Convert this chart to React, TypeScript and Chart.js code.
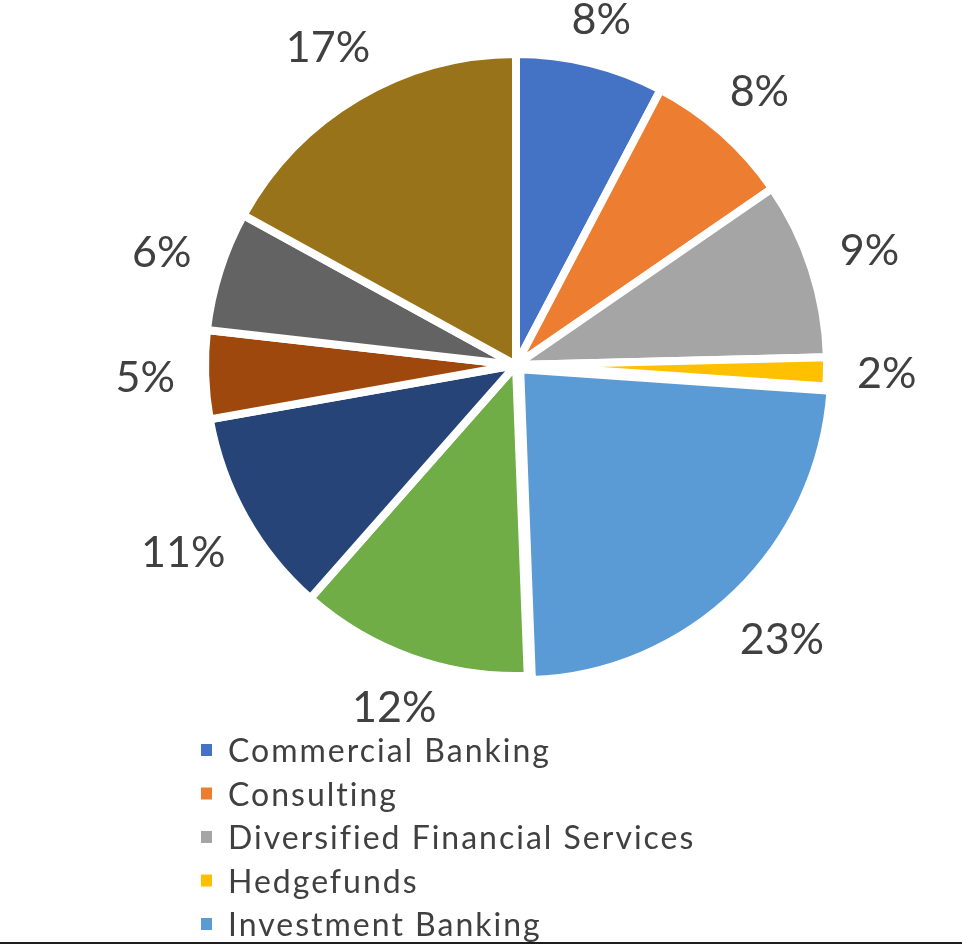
import React, { useEffect, useRef } from "react";
import { Chart, registerables } from "chart.js";

Chart.register(...registerables);

// ---- data ----
const categories: string[] = [
  "Commercial Banking",
  "Consulting",
  "Diversified Financial Services",
  "Hedgefunds",
  "Investment Banking",
  "Category 6",
  "Category 7",
  "Category 8",
  "Category 9",
  "Category 10",
];
const values: number[] = [7.7, 7.7, 9.2, 1.5, 23.3, 12.1, 10.7, 4.6, 6.2, 17.0];
const colors: string[] = [
  "#4472C4",
  "#ED7D31",
  "#A5A5A5",
  "#FFC000",
  "#5B9BD5",
  "#70AD47",
  "#264478",
  "#9E480E",
  "#636363",
  "#98731A",
];
const explode: number[] = [0, 0, 0, 0, 24, 0, 0, 0, 0, 0];

const TEXT_COLOR = "#404040";
const FONT = "Lato, 'Noto Sans', sans-serif";

const outerLabels = {
  id: "outerLabels",
  afterDatasetsDraw(chart: any) {
    const ctx = chart.ctx as CanvasRenderingContext2D;
    const meta = chart.getDatasetMeta(0);
    const total = values.reduce((a, b) => a + b, 0);
    ctx.save();
    ctx.font = `43px ${FONT}`;
    ctx.fillStyle = TEXT_COLOR;
    ctx.textAlign = "center";
    ctx.textBaseline = "alphabetic";
    const halfH = 8;
    meta.data.forEach((arc: any, i: number) => {
      const p = arc.getProps(["x", "y", "startAngle", "endAngle", "outerRadius"], true);
      const mid = (p.startAngle + p.endAngle) / 2;
      const off = (explode[i] || 0) / 4;
      const pct = Math.round((values[i] / total) * 100);
      const text = pct + "%";
      const halfW = ctx.measureText(text).width / 2;
      const c = Math.cos(mid);
      const s = Math.sin(mid);
      const r = p.outerRadius + off + 30 + halfW * Math.abs(c) + halfH * Math.abs(s);
      const lx = p.x + c * r;
      const ly = p.y + s * r;
      ctx.fillText(text, lx, ly + 15);
    });
    ctx.restore();
  },
  afterDraw(chart: any) {
    const ctx = chart.ctx as CanvasRenderingContext2D;
    ctx.save();
    ctx.font = `32px ${FONT}`;
    (ctx as any).letterSpacing = "2px";
    ctx.textAlign = "left";
    ctx.textBaseline = "alphabetic";
    const startY = 750;
    const step = 43.5;
    categories.forEach((c, i) => {
      const cy = startY + i * step;
      ctx.fillStyle = colors[i];
      ctx.fillRect(201, cy - 6, 11, 12);
      ctx.fillStyle = TEXT_COLOR;
      ctx.fillText(c, 228, cy + 12);
    });
    (ctx as any).letterSpacing = "0px";
    ctx.fillStyle = "#1e1e1e";
    ctx.fillRect(0, 942, 962, 2);
    ctx.restore();
  },
};

export default function App() {
  const ref = useRef<HTMLCanvasElement | null>(null);
  useEffect(() => {
    document.body.style.margin = "0";
    if (!ref.current) return;
    const chart = new Chart(ref.current, {
      type: "pie",
      data: {
        labels: categories,
        datasets: [
          {
            data: values,
            backgroundColor: colors,
            borderColor: "#FFFFFF",
            borderWidth: 8,
            offset: explode,
          },
        ],
      },
      options: {
        responsive: false,
        animation: false,
        radius: 311,
        rotation: 0,
        layout: { padding: { left: 70, right: 0, top: 0, bottom: 214 } },
        plugins: {
          legend: { display: false },
          tooltip: { enabled: false },
        },
      } as any,
      plugins: [outerLabels],
    });
    return () => chart.destroy();
  }, []);
  return (
    <div style={{ width: 962, height: 944, background: "#fff" }}>
      <canvas ref={ref} width={962} height={944} style={{ display: "block" }} />
    </div>
  );
}
